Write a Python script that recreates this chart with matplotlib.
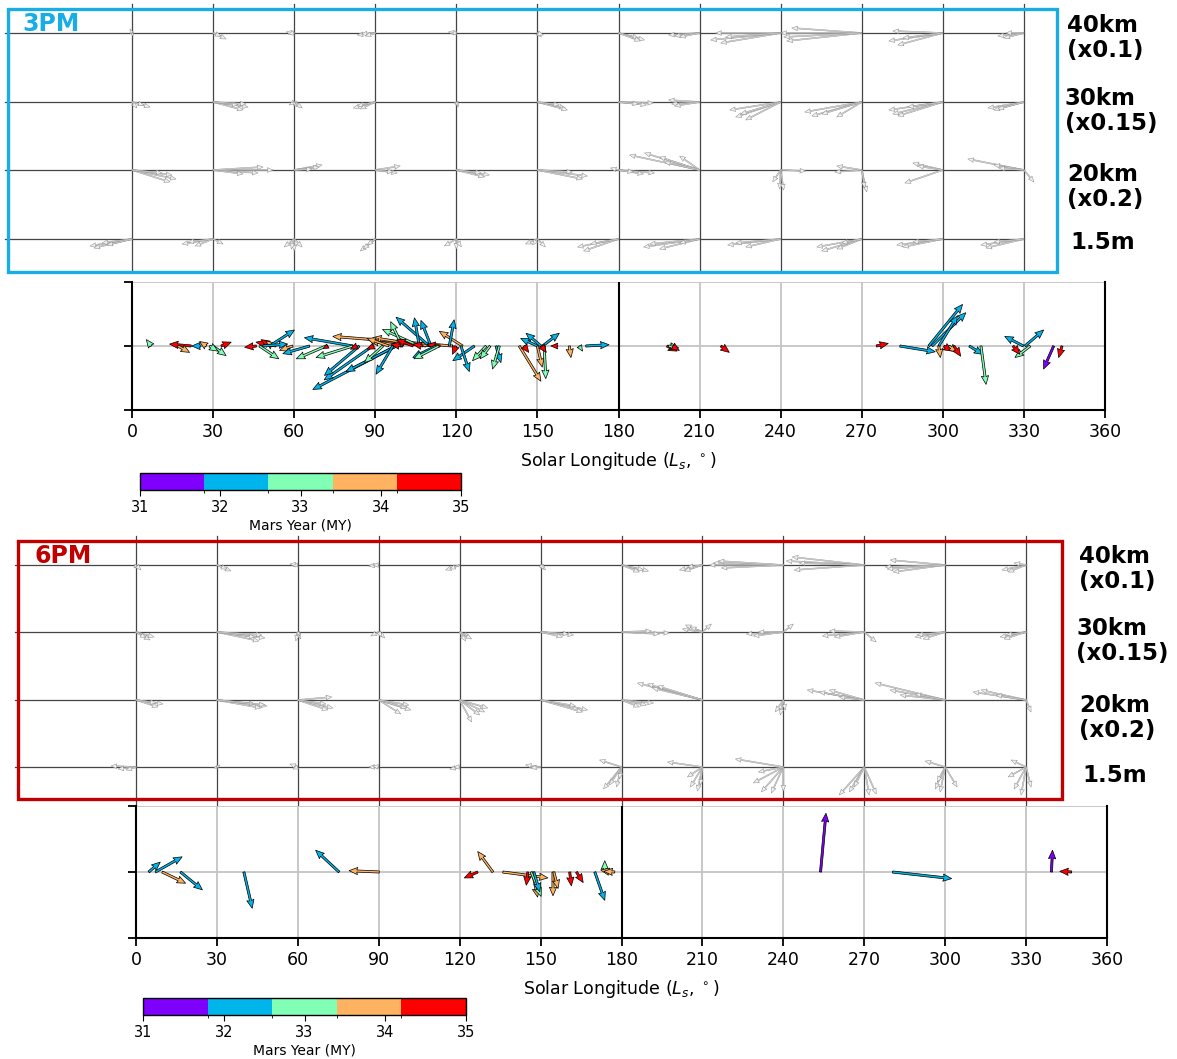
import numpy as np
import matplotlib
matplotlib.use('Agg')
import matplotlib.pyplot as plt
from matplotlib.colors import ListedColormap, BoundaryNorm
from matplotlib.patches import Rectangle
import matplotlib.cm as cm

# ------------------------------------------------------------------ data
LS_GRID = [0, 30, 60, 90, 120, 150, 180, 210, 240, 270, 300, 330]
LEVEL_LABELS = ['40km\n(x0.1)', '30km\n(x0.15)', '20km\n(x0.2)', '1.5m']
XTICKS = list(range(0, 361, 30))
MY_BOUNDS = [31, 31.8, 32.6, 33.4, 34.2, 35]
MY_TICKS = [31, 32, 33, 34, 35]

# grey profile arrows per Ls node: (dx, dy) (dy downward)
PM3_40KM = [
    [(-2, -4), (1, 3)], [(13, 6), (8, 3)], [(-8, -1), (-6, 1)],
    [(-18, 2), (-14, 1), (-10, 3)], [(-8, -1), (-5, 0)], [(4, 4), (6, 2)],
    [(26, 7), (20, 5), (22, 8)], [(-31, 2), (-25, 3), (-20, 4)],
    [(-70, 7), (-65, 0), (-60, 10), (-55, 4)], [(-81, 0), (-75, 8), (-70, -5), (-78, 4)],
    [(-54, 8), (-50, -2), (-45, 12), (-40, 5)], [(-26, 3), (-20, 5), (-18, 0)],
]
PM3_30KM = [
    [(18, 5), (12, 3), (5, 6)], [(35, 5), (30, 8), (25, 3), (33, 2)],
    [(5, 5), (-5, 3), (8, 6), (0, 4)], [(-22, 6), (-18, 4), (-15, 7)],
    [(2, 5), (1, 4)], [(28, 6), (30, 8), (22, 3)],
    [(35, 1), (28, 3), (20, 2)], [(-31, -2), (-28, 2), (-25, 4)],
    [(-51, 8), (-45, 15), (-40, 12), (-35, 18)], [(-57, 10), (-50, 14), (-40, 12), (-25, 15)],
    [(-54, 8), (-50, 12), (-45, 14), (-35, 5)], [(-36, 6), (-30, 8), (-26, 7)],
]
PM3_20KM = [
    [(44, 9), (38, 12), (40, 5), (30, 3)], [(60, 0), (45, 3), (30, 4), (50, -3)],
    [(28, -5), (25, -3), (18, -1)], [(25, -4), (22, 3), (18, 2)],
    [(33, 5), (28, 7), (25, 3)], [(50, 6), (45, 9), (35, 2)],
    [(36, 3), (25, 4), (15, 2), (-8, -2)],
    [(-70, -15), (-55, -17), (-40, -13), (-20, -14), (-35, -8)],
    [(-1, 19), (-8, 12), (3, 20), (25, 1)], [(-27, 2), (-25, -4), (5, 22), (3, 18)],
    [(-30, -7), (-25, -4), (-38, 13)], [(-56, -11), (-30, -5), (-25, -2), (10, 12)],
]
PM3_1M5 = [
    [(-42, 7), (-38, 9), (-30, 4), (-25, 6)], [(-31, 5), (-25, 3), (-18, 7), (10, 5)],
    [(-10, 8), (0, 12), (8, 8), (-3, 10)], [(-15, 12), (-12, 10), (-8, 6)],
    [(-12, 7), (0, 10), (5, 8)], [(-12, 5), (8, 8), (-5, 6)],
    [(-41, 8), (-35, 12), (-28, 5)], [(-56, 8), (-50, 5), (-40, 10), (-20, 4)],
    [(-53, 6), (-45, 4), (-35, 8)], [(-45, 8), (-40, 12), (-25, 10), (-20, 4)],
    [(-46, 6), (-40, 8), (-30, 3)], [(-43, 6), (-38, 9), (-30, 3)],
]
PM6_40KM = [
    [(5, 5), (-2, 3)], [(14, 6), (10, 4)], [(-8, -1), (-5, 1)],
    [(-10, 1), (-6, 0)], [(-14, 5), (-10, 4)], [(5, 5), (3, 4)],
    [(27, 6), (22, 5), (18, 7)], [(-23, 5), (-18, 6), (-15, 2)],
    [(-74, 0), (-70, -2), (-62, 3), (-65, -4)], [(-78, -4), (-72, -8), (-70, 5), (-65, -2)],
    [(-60, 2), (-55, -5), (-52, 7), (-58, 4)], [(-24, 5), (-18, 7), (-12, -2)],
]
PM6_30KM = [
    [(18, 5), (14, 8), (10, 6)], [(48, 6), (42, 9), (38, 5), (45, 3)],
    [(3, 7), (-2, 9), (2, 4)], [(-8, 4), (6, 6), (3, 5)],
    [(10, 5), (6, 9), (12, 7)], [(33, 3), (28, 2), (22, 5)],
    [(48, 1), (38, 2), (30, -1)], [(-17, -7), (-12, -5), (9, -8), (-20, -3)],
    [(-37, 2), (-30, 4), (-25, 0), (10, -8)], [(-42, 4), (-35, -1), (-30, 5), (12, 10)],
    [(-30, 5), (-22, 7), (-28, 3)], [(-26, 5), (-20, 3), (-22, 7)],
]
PM6_20KM = [
    [(27, 4), (22, 7), (20, 3)], [(50, 6), (44, 8), (38, 4), (48, 5)],
    [(35, 8), (30, 10), (34, -3), (28, 4)], [(32, 10), (28, 8), (22, 14), (30, 5)],
    [(28, 8), (25, 12), (12, 22), (20, 15)], [(47, 10), (42, 12), (35, 6)],
    [(32, 3), (25, 5), (18, 7)], [(-65, -17), (-55, -16), (-50, -12), (-45, -14)],
    [(-8, 12), (-3, 15), (2, 10)], [(-57, -10), (-45, -8), (-35, -10), (-25, -3)],
    [(-70, -17), (-55, -10), (-45, -5), (-30, -6)], [(-53, -8), (-45, -10), (-30, -5), (5, 12)],
]
PM6_1M5 = [
    [(-25, -1), (-18, 2), (-10, 3)], [(-3, 1), (3, -2)], [(-8, -3), (-5, 2)],
    [(-10, 0), (-6, -1)], [(-10, 2), (-6, 0)], [(-15, -2), (-10, 1)],
    [(-18, 22), (-12, 18), (-5, 20), (-22, -7), (-2, 12)],
    [(-35, -5), (-12, 20), (-5, 24), (-2, 18), (-15, 10)],
    [(-48, -8), (-22, 25), (-12, 26), (0, 24), (-30, 16), (-25, 5)],
    [(-25, 28), (-15, 25), (5, 28), (12, 27), (-10, 20)],
    [(-20, -6), (-10, 22), (-5, 25), (12, 20), (-8, 15)],
    [(-15, -7), (-12, 22), (-5, 28), (5, 20), (-18, 10)],
]

# coloured wind arrows, 3PM: tail Ls, u (deg Ls), v (axis units), Mars Year
LS_3PM = [7.1, 21.9, 17.0, 27.5, 25.5, 29.9, 28.7, 33.0, 46.0, 53.3, 51.5, 52.0,
          47.2, 50.9, 48.4, 59.5, 65.7, 71.8, 81.7, 97.7, 89.0, 84.1, 97.7, 96.5,
          92.8, 81.7, 118.6, 108.8, 122.3, 100.0, 112.0, 95.0, 110.0, 106.3, 110.6,
          106.3, 100.0, 117.4, 99.5, 107.6, 114.0, 119.8, 83.3, 89.5, 72.5, 104.0,
          126.7, 121.7, 131.0, 132.5, 112.5, 113.5, 134.7, 135.9,
          150.0, 151.3, 151.9, 143.3, 150.0, 152.5, 145.0, 151.5, 157.5, 161.8,
          165.5, 167.9,
          197.9, 198.5, 200.0, 217.9, 275.4, 284.1, 294.8, 296.0, 298.5, 298.5,
          300.4, 302.3, 304.1, 309.8, 314.1, 329.8, 330.4, 332.3, 326.0, 341.0, 344.1]
U_3PM = [-1.8, -8.0, 4.3, -2.5, -3.4, 4.9, 3.1, 3.7, -4.3, -7.4, -3.7, -2.5,
         7.1, 9.2, 9.2, -4.9, -9.9, -11.0, -17.9, -30.8, -17.9, -12.9, -18.5, -6.2,
         -6.8, -13.6, -44.3, -19.7, -8.6, -12.0, -15.0, -8.0, -12.3, -1.8, -3.7,
         -13.6, -4.3, 1.8, -3.7, -3.7, -4.9, -1.2, -2.5, -2.5, -1.8, -6.0,
         -8.0, 3.1, -5.0, -3.7, -8.6, -9.2, 1.8, -2.5,
         -6.2, -5.5, 6.2, 8.0, 1.8, 0.6, 1.8, 1.8, -2.5, 0.6,
         1.2, 8.6,
         3.75, 3.75, 2.5, 3.1, 4.4, 13.1, 12.5, 12.5, 6.9, 0.6,
         3.1, 3.1, 2.5, 5.0, 1.9, -6.9, 6.9, -5.6, 2.5, -3.75, -1.25]
V_3PM = [0.10, 0.03, -0.10, 0.07, 0.0, -0.15, -0.08, 0.06, -0.02, 0.06, 0.10, 0.08,
         -0.20, 0.25, 0.03, -0.07, -0.12, -0.20, 0.13, -0.68, -0.53, -0.46, -0.40, -0.44,
         -0.26, -0.18, 0.15, 0.13, 0.23, 0.08, 0.05, 0.12, 0.45, 0.44, 0.40,
         0.26, 0.38, 0.41, 0.03, 0.03, 0.02, -0.13, -0.05, -0.05, -0.04, 0.10,
         -0.23, -0.40, -0.23, -0.20, -0.18, -0.20, -0.26, -0.36,
         0.12, 0.20, 0.20, -0.55, -0.33, -0.51, -0.10, -0.10, 0.0, -0.18,
         -0.08, 0.02,
         -0.08, -0.03, -0.07, -0.10, 0.04, -0.09, 0.65, 0.52, 0.47, -0.18,
         -0.08, -0.10, -0.16, -0.13, -0.60, 0.15, 0.25, -0.18, -0.13, -0.36, -0.18]
MY_3PM = [33, 35, 34, 34, 32, 33, 33, 35, 35, 35, 35, 34,
          33, 32, 32, 34, 32, 33, 32, 32, 32, 32, 32, 32,
          33, 33, 34, 34, 34, 34, 34, 34, 32, 32, 32,
          33, 33, 32, 35, 35, 35, 35, 35, 35, 35, 35,
          32, 32, 33, 33, 32, 33, 32, 33,
          32, 32, 32, 34, 34, 33, 35, 35, 35, 34,
          33, 32,
          35, 33, 35, 35, 35, 32, 32, 32, 32, 34,
          35, 34, 35, 32, 33, 32, 32, 33, 35, 31, 35]

# coloured wind arrows, 6PM
LS_6PM = [4.7, 7.2, 9.7, 16.5, 40.0, 75.3, 90.2, 126.7, 132.3, 136.0, 145.3, 147.0,
          146.5, 147.5, 154.6, 154.9, 160.8, 163.3, 170.1, 173.8, 176.0, 177.5,
          253.8, 280.5, 339.4, 346.9]
U_6PM = [4.3, 9.9, 8.7, 8.1, 3.1, -8.7, -11.2, -5.0, -5.6, 16.7, -0.6, 1.9,
         3.7, 2.2, 0.0, 1.6, 0.6, 2.5, 3.7, 0.0, -3.7, -4.0,
         2.0, 21.9, 0.4, -4.4]
V_6PM = [0.15, 0.23, -0.17, -0.27, -0.55, 0.33, 0.02, -0.09, 0.31, -0.09, -0.20, -0.38,
         -0.37, -0.30, -0.36, -0.25, -0.21, -0.16, -0.43, 0.17, 0.03, 0.01,
         0.89, -0.10, 0.33, 0.01]
MY_6PM = [32, 32, 34, 32, 32, 32, 34, 35, 34, 34, 35, 34,
          33, 32, 34, 34, 35, 35, 32, 33, 34, 34,
          31, 32, 31, 35]

# ------------------------------------------------------------------ layout
W, H = 1177, 1059
fig = plt.figure(figsize=(W / 100, H / 100), dpi=100)
plt.rcParams['font.family'] = ['DejaVu Sans']


def rect(x0, y0, x1, y1):
    return [x0 / W, 1 - y1 / H, (x1 - x0) / W, (y1 - y0) / H]


cmap = ListedColormap(plt.get_cmap('rainbow')(np.linspace(0, 1, 5)))
norm = BoundaryNorm(MY_BOUNDS, 5)


def grid_panel(box, x0, ppd, level_px, level_arrows, vext, color, title,
               title_px, label_x, label_y):
    bx0, by0, bx1, by1 = box
    ax = fig.add_axes(rect(bx0, by0, bx1, by1))
    xl = ((bx0 - x0) / ppd, (bx1 - x0) / ppd)
    ax.set_xlim(xl)
    ax.set_ylim(0, (by1 - by0) / ppd)
    ax.axis('off')

    def py(p):
        return (by1 - p) / ppd

    for ls in LS_GRID:
        ax.plot([ls, ls], [py(by1 + vext[1]), py(by0 - vext[0])],
                color='#444444', lw=0.9, clip_on=False, zorder=1)
    for lp in level_px:
        ax.plot([xl[0] - 3 / ppd, 330], [py(lp), py(lp)], color='#444444',
                lw=0.9, clip_on=False, zorder=1)
    X, Y, U, V = [], [], [], []
    for lp, arrows in zip(level_px, level_arrows):
        for ls, vecs in zip(LS_GRID, arrows):
            for dx, dy in vecs:
                X.append(ls)
                Y.append(py(lp))
                U.append(dx)
                V.append(-dy)
    ax.quiver(X, Y, U, V, angles='xy', scale_units='xy', scale=ppd,
              width=0.0010, headwidth=4.5, headlength=5.5, headaxislength=5,
              facecolor='#f0f0f0', edgecolor='#8c8c8c', linewidth=0.35,
              zorder=3)
    fig.patches.append(Rectangle((bx0 / W, 1 - by1 / H), (bx1 - bx0) / W,
                                 (by1 - by0) / H, transform=fig.transFigure,
                                 fill=False, edgecolor=color, lw=2.4, zorder=6))
    fig.text(title_px[0] / W, 1 - title_px[1] / H, title, color=color,
             fontsize=17, fontweight='bold', ha='left', va='center')
    for lab, lx, ly in zip(LEVEL_LABELS, label_x, label_y):
        fig.text(lx / W, 1 - ly / H, lab, fontsize=16.5, fontweight='bold',
                 ha='left', va='center', linespacing=1.1)


def wind_axes(box, ls, u, v, my):
    ax = fig.add_axes(rect(*box))
    ax.set_xlim(0, 360)
    ax.set_ylim(-1, 1)
    ax.set_xticks(XTICKS)
    ax.set_yticks([-1, 0, 1])
    ax.set_yticklabels([])
    ax.grid(True, color='#c4c4c4', lw=1.3)
    ax.set_axisbelow(True)
    ax.spines['top'].set_visible(False)
    for s in ['left', 'bottom', 'right']:
        ax.spines[s].set_linewidth(1.5)
    ax.axvline(180, color='k', lw=1.5, zorder=2)
    ax.quiver(ls, np.zeros(len(ls)), u, v, my, cmap=cmap, norm=norm,
              angles='xy', scale_units='xy', scale=1, width=0.0022,
              headwidth=3.4, headlength=4.0, headaxislength=3.6,
              edgecolor='k', linewidth=0.5, zorder=3)
    ax.tick_params(labelsize=12.5, length=6, width=1.3)
    ax.set_xlabel('Solar Longitude ($L_s$, $^\\circ$)', fontsize=12.5, labelpad=6)
    return ax


def colorbar(box):
    cax = fig.add_axes(rect(*box))
    cb = fig.colorbar(cm.ScalarMappable(norm=norm, cmap=cmap), cax=cax,
                      orientation='horizontal', ticks=MY_TICKS)
    cb.ax.tick_params(labelsize=10.5, length=4)
    cb.outline.set_linewidth(1.0)
    cb.set_label('Mars Year (MY)', fontsize=10, labelpad=2)


# ------------------------------------------------------------------ 3PM
grid_panel((8, 9, 1057, 272), 132, (1105 - 132) / 360, [33, 102, 170, 239],
           [PM3_40KM, PM3_30KM, PM3_20KM, PM3_1M5], (5, 0), '#19ade6', '3PM',
           (22, 24), [1067, 1065, 1067, 1070], [38, 111, 187, 243])
wind_axes((132, 282, 1105, 410), LS_3PM, U_3PM, V_3PM, MY_3PM)
colorbar((140, 473, 461, 490))

# ------------------------------------------------------------------ 6PM
grid_panel((18, 541, 1062, 799), 136, (1107 - 136) / 360, [565, 632, 700, 767],
           [PM6_40KM, PM6_30KM, PM6_20KM, PM6_1M5], (5, 7), '#c00000', '6PM',
           (35, 556), [1079, 1076, 1079, 1082], [569, 641, 718, 775])
wind_axes((136, 806, 1107, 938), LS_6PM, U_6PM, V_6PM, MY_6PM)
colorbar((143, 998, 466, 1015))

fig.savefig('out.png', dpi=100)
